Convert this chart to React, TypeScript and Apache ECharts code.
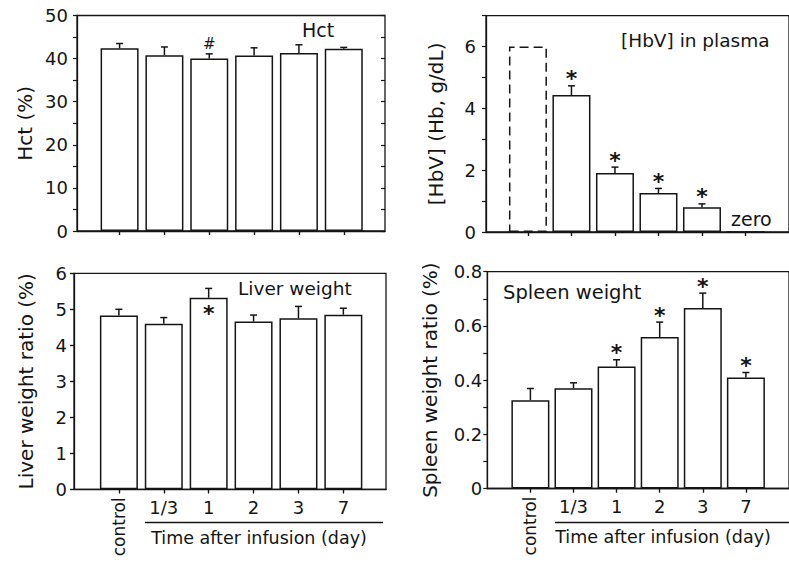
import React, { useEffect, useRef } from 'react';
import * as echarts from 'echarts';

// ---- data ----
const categories = ['control', '1/3', '1', '2', '3', '7'];

const hctMean = [42.4, 40.8, 40.0, 40.7, 41.3, 42.3];
const hctSd = [1.1, 1.9, 1.1, 1.8, 1.9, 0.3];
const hctMarks = ['', '', '#', '', '', ''];

const hbvMean = [6.0, 4.43, 1.91, 1.26, 0.8, 0];
const hbvSd = [0, 0.3, 0.19, 0.15, 0.11, 0];
const hbvMarks = ['', '*', '*', '*', '*', ''];

const liverMean = [4.83, 4.6, 5.32, 4.66, 4.75, 4.85];
const liverSd = [0.17, 0.17, 0.26, 0.18, 0.33, 0.18];
const liverMarks = ['', '', '*', '', '', ''];

const spleenMean = [0.326, 0.37, 0.45, 0.559, 0.666, 0.41];
const spleenSd = [0.043, 0.02, 0.025, 0.055, 0.055, 0.018];
const spleenMarks = ['', '', '*', '*', '*', '*'];

const INK = '#151515';
const FONT = 'DejaVu Sans';

type Panel = {
  mean: number[];
  sd: number[];
  marks: string[];
  marksInside?: boolean;
  dashedFirst?: boolean;
  yMax: number;
  yStep: number;
  labelEvery: number;
  decimals: number;
  yName: string;
  nameGap: number;
  labelMargin: number;
  left: number;
  top: number;
  width: number;
  height: number;
  xMin: number;
  xMax: number;
  rightFrame: boolean;
  showX: boolean;
};

const panels: Panel[] = [
  {
    mean: hctMean, sd: hctSd, marks: hctMarks,
    yMax: 50, yStep: 5, labelEvery: 2, decimals: 0, yName: 'Hct (%)', nameGap: 42, labelMargin: 9,
    left: 77, top: 15.5, width: 308, height: 215.5, xMin: 0.05, xMax: 6.92, rightFrame: true, showX: false,
  },
  {
    mean: hbvMean, sd: hbvSd, marks: hbvMarks, dashedFirst: true,
    yMax: 7, yStep: 1, labelEvery: 2, decimals: 0, yName: '[HbV] (Hb, g/dL)', nameGap: 40, labelMargin: 10,
    left: 486, top: 15.7, width: 309, height: 216.3, xMin: 0.036, xMax: 7, rightFrame: false, showX: false,
  },
  {
    mean: liverMean, sd: liverSd, marks: liverMarks, marksInside: true,
    yMax: 6, yStep: 1, labelEvery: 1, decimals: 0, yName: 'Liver weight ratio (%)', nameGap: 38, labelMargin: 7,
    left: 74, top: 273.3, width: 312, height: 216, xMin: 0, xMax: 6.95, rightFrame: true, showX: true,
  },
  {
    mean: spleenMean, sd: spleenSd, marks: spleenMarks,
    yMax: 0.8, yStep: 0.1, labelEvery: 2, decimals: 1, yName: 'Spleen weight ratio (%)', nameGap: 47, labelMargin: 5,
    left: 487.3, top: 271.7, width: 310.5, height: 216.8, xMin: 0, xMax: 7, rightFrame: false, showX: true,
  },
];

function buildOption() {
  const grid: any[] = [];
  const xAxis: any[] = [];
  const yAxis: any[] = [];
  const series: any[] = [];
  const positions = categories.map((_, i) => i + 1);
  const catLabel = (v: number) => categories[Math.round(v) - 1] ?? '';

  panels.forEach((p, gi) => {
    grid.push({
      left: p.left, top: p.top, width: p.width, height: p.height,
      show: true, borderColor: INK, borderWidth: 1.3, backgroundColor: 'transparent',
    });
    const xBase = xAxis.length;
    xAxis.push({
      gridIndex: gi, type: 'value', position: 'bottom', min: p.xMin, max: p.xMax,
      axisLine: { show: true, onZero: false, lineStyle: { color: INK, width: 1.3 } },
      axisTick: { show: true, customValues: positions, length: 4, lineStyle: { color: INK, width: 1.2 } },
      axisLabel: {
        show: p.showX, customValues: positions.slice(1), formatter: catLabel, margin: 9,
        fontFamily: FONT, fontSize: 18, color: INK,
      },
      splitLine: { show: false },
    });
    xAxis.push({
      gridIndex: gi, type: 'value', position: 'top', min: p.xMin, max: p.xMax,
      axisLine: { show: false },
      axisTick: { show: true, inside: true, customValues: positions, length: 4, lineStyle: { color: INK, width: 1.2 } },
      axisLabel: { show: false },
      splitLine: { show: false },
    });
    if (p.showX) {
      xAxis.push({
        gridIndex: gi, type: 'value', position: 'bottom', min: p.xMin, max: p.xMax,
        axisLine: { show: false }, axisTick: { show: false },
        axisLabel: {
          show: true, customValues: [1], rotate: 90, formatter: catLabel, margin: 8,
          fontFamily: FONT, fontSize: 17, color: INK,
        },
        splitLine: { show: false },
      });
    }
    const yBase = yAxis.length;
    const fmt = (v: number) => {
      const k = Math.round(v / p.yStep);
      if (k % p.labelEvery !== 0) return '';
      if (Math.abs(v) < 1e-9) return '0';
      return v.toFixed(p.decimals);
    };
    yAxis.push({
      gridIndex: gi, type: 'value', position: 'left', min: 0, max: p.yMax, interval: p.yStep,
      name: p.yName, nameLocation: 'middle', nameGap: p.nameGap,
      nameTextStyle: { fontFamily: FONT, fontSize: 20, color: INK },
      axisLine: { show: true, lineStyle: { color: INK, width: 1.3 } },
      axisTick: { show: true, length: 4, lineStyle: { color: INK, width: 1.2 } },
      axisLabel: { formatter: fmt, margin: p.labelMargin, fontFamily: FONT, fontSize: 18, color: INK },
      splitLine: { show: false },
    });
    if (p.rightFrame) {
      yAxis.push({
        gridIndex: gi, type: 'value', position: 'right', min: 0, max: p.yMax, interval: p.yStep,
        axisLine: { show: false },
        axisTick: { show: true, inside: true, length: 4, lineStyle: { color: INK, width: 1.2 } },
        axisLabel: { show: false },
        splitLine: { show: false },
      });
    }
    series.push({
      type: 'bar', xAxisIndex: xBase, yAxisIndex: yBase, barWidth: 38,
      itemStyle: { color: '#ffffff', borderColor: INK, borderWidth: 1.5 },
      data: p.mean.map((v, i) => ({
        value: [i + 1, v],
        itemStyle: p.dashedFirst && i === 0
          ? { color: 'transparent', borderColor: INK, borderWidth: 1.5, borderType: [9, 5] }
          : undefined,
      })),
    });
    series.push({
      type: 'custom', xAxisIndex: xBase, yAxisIndex: yBase, z: 5,
      itemStyle: { color: INK },
      data: p.mean.map((v, i) => [i + 1, v, v + p.sd[i], i]),
      renderItem: (_params: any, api: any) => {
        const x = api.value(0);
        const i = api.value(3);
        const base = api.coord([x, api.value(1)]);
        const tip = api.coord([x, api.value(2)]);
        const children: any[] = [];
        if (api.value(2) > api.value(1)) {
          children.push({
            type: 'line', shape: { x1: base[0], y1: base[1], x2: tip[0], y2: tip[1] },
            style: { stroke: INK, lineWidth: 1.5 },
          });
          children.push({
            type: 'line', shape: { x1: tip[0] - 3.5, y1: tip[1], x2: tip[0] + 3.5, y2: tip[1] },
            style: { stroke: INK, lineWidth: 1.5 },
          });
        }
        const mark = p.marks[i];
        if (mark) {
          const isHash = mark === '#';
          const y = p.marksInside ? base[1] + 16 : tip[1] - (isHash ? 10 : 7);
          children.push({
            type: 'text',
            style: {
              text: mark, x: tip[0], y,
              align: 'center', verticalAlign: 'middle',
              font: `${isHash ? 'normal' : 'bold'} ${isHash ? 15 : 22}px "${FONT}"`,
              fill: INK, stroke: 'none',
            },
          });
        }
        return { type: 'group', children };
      },
    });
  });

  const txt = (text: string, x: number, y: number, align: string, size: number) => ({
    type: 'text',
    style: {
      text, x, y, fill: INK, font: `${size}px "${FONT}"`,
      textAlign: align, textVerticalAlign: 'middle', align, verticalAlign: 'middle',
    },
  });

  const graphic = [
    txt('Hct', 318, 30, 'center', 19),
    txt('[HbV] in plasma', 621, 40, 'left', 18.5),
    txt('zero', 731, 219, 'left', 19),
    txt('Liver weight', 238, 288, 'left', 18.5),
    txt('Spleen weight', 503, 292, 'left', 19.5),
    txt('Time after infusion (day)', 259, 538, 'center', 17.5),
    txt('Time after infusion (day)', 663, 537, 'center', 17.5),
    { type: 'line', shape: { x1: 145, y1: 522.5, x2: 383, y2: 522.5 }, style: { stroke: INK, lineWidth: 1.3 } },
    { type: 'line', shape: { x1: 555, y1: 522.5, x2: 789, y2: 522.5 }, style: { stroke: INK, lineWidth: 1.3 } },
  ];

  return {
    animation: false,
    backgroundColor: '#ffffff',
    color: [INK],
    textStyle: { fontFamily: FONT, color: INK },
    grid,
    xAxis,
    yAxis,
    series,
    graphic,
  };
}

export default function App() {
  const ref = useRef<HTMLDivElement>(null);
  useEffect(() => {
    if (!ref.current) return;
    const chart = echarts.init(ref.current, null, { renderer: 'svg', width: 789, height: 567 });
    chart.setOption(buildOption() as any);
    return () => chart.dispose();
  }, []);
  return (
    <div
      ref={ref}
      style={{ position: 'fixed', left: 0, top: 0, width: 789, height: 567, background: '#fff' }}
    />
  );
}
